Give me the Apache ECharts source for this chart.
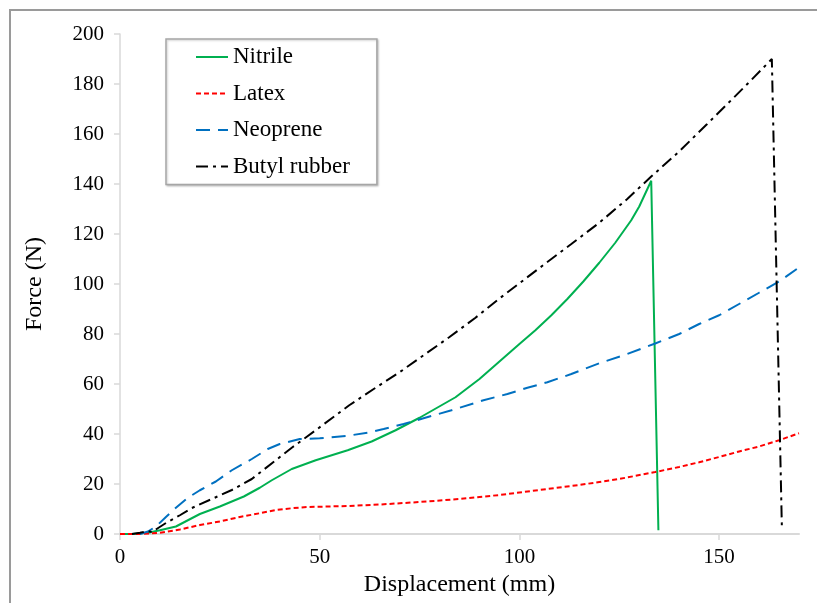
<!DOCTYPE html>
<html>
<head>
<meta charset="utf-8">
<script src="https://cdn.jsdelivr.net/npm/echarts@6/dist/echarts.min.js"></script>
<style>
  html, body { margin: 0; padding: 0; background: #fff; }
  #chart { width: 817px; height: 603px; }
</style>
</head>
<body>
<div id="chart"></div>
<script>
// 力-位移曲线 (displacement mm, force N)
const nitrile = [
    [0, 0], [3, 0], [7, 0.5], [10, 1.5], [14, 3], [20, 8], [25, 11], [31, 15], [35, 18.5],
    [38, 21.5], [43, 26], [49, 29.5], [57, 33.5], [63, 37], [69, 41.5], [75, 46.5],
    [84, 54.7], [90, 62], [95, 69], [100, 76], [104, 81.5], [108, 87.5], [112, 94],
    [116, 101], [120, 108.5], [124, 116.5], [128, 125.5], [130, 131], [133, 141.3], [134.8, 1.5]
];
const latex = [
    [0, 0], [5, 0], [10, 0.5], [15, 1.8], [20, 3.6], [25, 5], [30, 6.8], [35, 8.3],
    [39, 9.6], [43, 10.3], [47, 10.8], [57, 11.2], [65, 11.8], [75, 12.8], [85, 14],
    [95, 15.6], [105, 17.6], [115, 19.6], [120, 20.8], [125, 22], [134, 24.8], [140, 26.8],
    [145, 28.7], [150, 30.8], [155, 33], [160, 35], [165, 37.5], [170, 40.3]
];
const neoprene = [
    [5, 0], [7, 1], [9, 3], [11.5, 6.8], [14, 10.5], [17, 14.5], [20, 17.5], [24, 21],
    [28, 25.5], [33, 30], [37, 34], [40, 36], [45, 38], [50, 38.3], [57, 39.3], [62, 40.5],
    [66, 42], [71, 44], [76, 46.3], [83, 49.5], [91, 53.5], [97, 56], [102, 58.5],
    [107, 60.7], [113, 64], [120, 68.3], [127, 72], [134, 76.2], [140, 80], [145, 84],
    [150, 87.5], [155, 92], [160, 96.5], [165, 101], [170, 106.6]
];
const butyl = [
    [3, 0], [5, 0.5], [7, 1.2], [8, 0.8], [11.5, 4.4], [15, 7.5], [18, 10.4], [23, 14],
    [28, 17.6], [33, 22], [39, 29.5], [43, 34.5], [46.6, 38.7], [49, 41.5], [57.4, 51.5],
    [64, 58.5], [70, 64.7], [76, 71.5], [82.5, 78.8], [89, 86.5], [95, 94.2], [101, 101.5],
    [107.5, 109.4], [113, 116], [120, 124.5], [127, 134], [133, 143], [140, 153],
    [147, 164], [153, 173.5], [158, 181.5], [163.2, 190], [165.7, 3.5]
];

const seriesNames = ['Nitrile', 'Latex', 'Neoprene', 'Butyl rubber'];
const xTicks = [0, 50, 100, 150];

const font = 'Liberation Serif';
const axisGray = '#d9d9d9';

const chart = echarts.init(document.getElementById('chart'));

function lineSeries(name, data, color, type) {
    return {
        name: name,
        type: 'line',
        data: data,
        symbol: 'none',
        smooth: false,
        lineStyle: { color: color, width: 2, type: type },
        itemStyle: { color: color }
    };
}

chart.setOption({
    animation: false,
    backgroundColor: '#fff',
    graphic: [{
        type: 'rect',
        shape: { x: 10, y: 10, width: 1000, height: 1000 },
        style: { fill: 'none', stroke: '#9a9a9a', lineWidth: 2 },
        silent: true
    }],
    grid: { left: 120, right: 18, top: 34, bottom: 69 },
    legend: {
        orient: 'vertical',
        left: 166,
        top: 39,
        padding: [6, 27, 6, 29],
        itemWidth: 32,
        itemHeight: 14,
        itemGap: 12.5,
        borderColor: '#a6a6a6',
        borderWidth: 1.5,
        shadowColor: 'rgba(0,0,0,0.2)',
        shadowBlur: 2,
        shadowOffsetX: 1,
        shadowOffsetY: 1,
        backgroundColor: '#fff',
        itemStyle: { opacity: 0 },
        textStyle: { fontFamily: font, fontSize: 23, color: '#000', lineHeight: 24 },
        data: seriesNames
    },
    xAxis: {
        type: 'value',
        min: 0,
        max: 170,
        interval: 50,
        name: 'Displacement (mm)',
        nameLocation: 'middle',
        nameGap: 38,
        nameTextStyle: { fontFamily: font, fontSize: 24, color: '#000' },
        axisLine: { show: true, lineStyle: { color: axisGray, width: 2 } },
        axisTick: { show: true, length: 6, customValues: xTicks, lineStyle: { color: axisGray, width: 1.5 } },
        axisLabel: { customValues: xTicks, margin: 13, fontFamily: font, fontSize: 21, color: '#000' },
        splitLine: { show: false }
    },
    yAxis: {
        type: 'value',
        min: 0,
        max: 200,
        interval: 20,
        name: 'Force (N)',
        nameLocation: 'middle',
        nameGap: 73,
        nameTextStyle: { fontFamily: font, fontSize: 24, color: '#000' },
        axisLine: { show: true, lineStyle: { color: axisGray, width: 1.5 } },
        axisTick: { show: true, length: 6, lineStyle: { color: axisGray, width: 1.5 } },
        axisLabel: { margin: 16, fontFamily: font, fontSize: 21, color: '#000' },
        splitLine: { show: false }
    },
    series: [
        lineSeries('Nitrile', nitrile, '#00b050', 'solid'),
        lineSeries('Latex', latex, '#ff0000', [5, 3]),
        lineSeries('Neoprene', neoprene, '#0070c0', [14, 8]),
        lineSeries('Butyl rubber', butyl, '#000000', [12, 5, 3, 5])
    ]
});
</script>
</body>
</html>
